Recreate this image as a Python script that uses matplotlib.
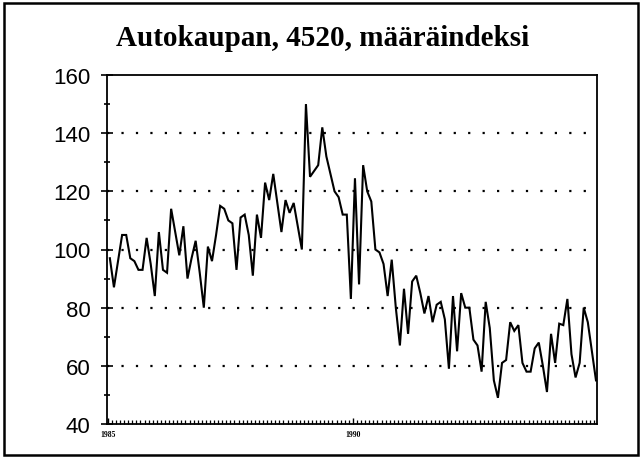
import matplotlib
matplotlib.use("Agg")
import matplotlib.pyplot as plt
from matplotlib.patches import Rectangle
from matplotlib.ticker import MultipleLocator, FixedLocator, FixedFormatter
import numpy as np

title = "Autokaupan, 4520, määräindeksi"

values = [
    97, 87, 96, 105, 105, 97, 96, 93, 93, 104,
    95, 84, 106, 93, 92, 114, 106, 98, 108, 90,
    97, 103, 92, 80, 101, 96, 105, 115, 114, 110,
    109, 93, 111, 112, 105, 91, 112, 104, 123, 117,
    126, 116, 106, 117, 112.6, 116, 108, 100, 150, 125,
    127, 129, 142, 132, 126, 120, 118, 112, 112, 83,
    124.5, 88, 129, 120, 116.5, 100, 99, 95, 84, 96.5,
    80, 67, 86.5, 71, 89, 91, 85, 78, 84, 75,
    81, 82, 76, 59, 84, 65, 85, 80, 80, 69,
    67, 58, 82, 73, 55, 49, 61, 62, 75, 72,
    74, 61, 58, 58, 66, 68, 60, 51, 71, 61,
    74.5, 74, 83, 64, 56, 61, 80, 75, 65, 55,
]
year_labels = ["1985", "1990"]
year_ticks = [-0.5, 59.5]
y_major = [40, 60, 80, 100, 120, 140, 160]
y_grid = [60, 80, 100, 120, 140]

fig = plt.figure(figsize=(6.43, 4.64), dpi=100)
ax = fig.add_axes([107/643, 1-425/464, (597-107)/643, (425-76)/464])

x = np.arange(len(values))
ax.plot(x, values, color="black", lw=1.5, solid_joinstyle="miter")

for g in y_grid:
    ax.axhline(g, color="black", lw=1.6, linestyle=(0, (1, 5.5)), zorder=0)

ax.set_xlim(-0.7, len(values) - 0.75)
ax.set_ylim(40, 160)

ax.set_yticks(y_major)
ax.set_yticklabels([str(v) for v in y_major], fontfamily="Liberation Sans", fontsize=16)
ax.yaxis.set_minor_locator(MultipleLocator(10))
ax.tick_params(axis="y", which="major", direction="inout", length=8, width=1.2, pad=8)
ax.tick_params(axis="y", which="minor", direction="inout", length=5, width=1.2)

ax.xaxis.set_major_locator(FixedLocator(year_ticks))
ax.xaxis.set_major_formatter(FixedFormatter(year_labels))
ax.xaxis.set_minor_locator(FixedLocator(np.arange(-0.5, len(values), 1.0)))
ax.tick_params(axis="x", which="major", direction="in", length=4, width=1.0, pad=4,
               labelsize=5.5)
ax.tick_params(axis="x", which="minor", direction="in", length=3, width=0.9)
for lab in ax.get_xticklabels():
    lab.set_fontfamily("Liberation Serif")
    lab.set_fontweight("bold")

for s in ax.spines.values():
    s.set_linewidth(1.3)
    s.set_color("black")

fig.text(0.502, 0.918, title, ha="center", va="center",
         fontfamily="Liberation Serif", fontweight="bold", fontsize=21)

fig.patches.append(Rectangle((4/643, 1-456/464), (638-4)/643, (456-4)/464,
                             transform=fig.transFigure, fill=False,
                             edgecolor="black", lw=1.8))

fig.savefig("out.png", dpi=100)
